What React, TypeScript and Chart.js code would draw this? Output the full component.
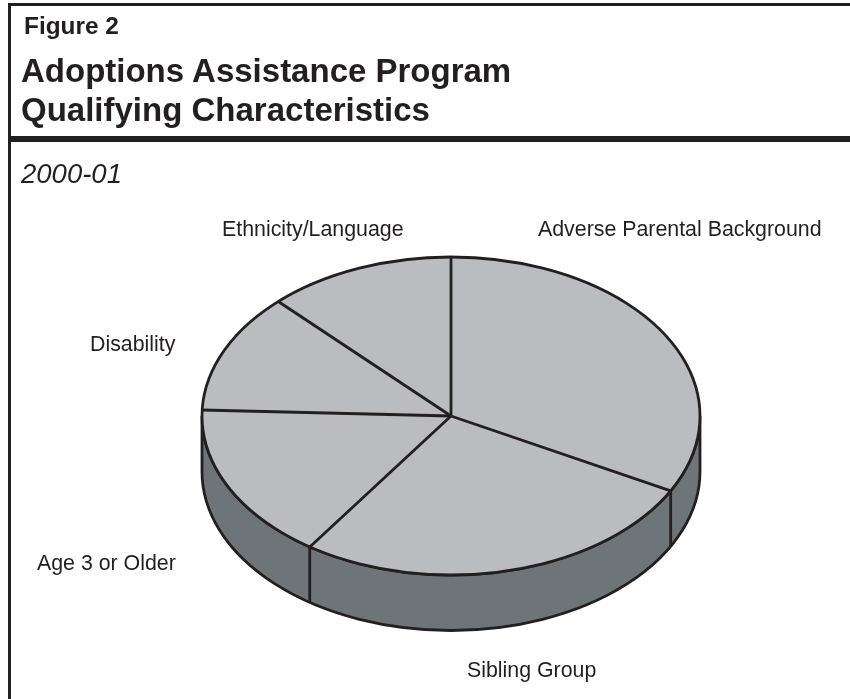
import React, { useEffect, useRef } from "react";
import { Chart, registerables } from "chart.js";

Chart.register(...registerables);

// Shares of qualifying characteristics, clockwise from twelve o'clock.
const categories = [
  "Adverse Parental Background",
  "Sibling Group",
  "Age 3 or Older",
  "Disability",
  "Ethnicity/Language",
];
const shares = [32.8, 26.8, 16, 12.2, 12.2];

const figureLabel = "Figure 2";
const titleLines = ["Adoptions Assistance Program", "Qualifying Characteristics"];
const periodLabel = "2000-01";

const INK = "#231f20";
const TOP_FILL = "#bbbcc0";
const WALL_FILL = "#6e7578";
const FONT = '"Liberation Sans", Arial, sans-serif';

// Foreshortening of the disc and height of its rim.
const TILT = 159 / 249;
const RIM = 55.5;
const LINE = 2.8;

// Label baseline-left anchors, in the same order as the categories.
const labelAnchors: [number, number][] = [
  [538, 236],
  [467, 677],
  [37, 570],
  [90, 351],
  [222, 236],
];

const pie3d = {
  id: "pie3d",
  beforeDatasetsDraw(chart: any) {
    const arc = chart.getDatasetMeta(0).data[0];
    const { x: cx, y: cy, outerRadius: rx } = arc;
    const ry = rx * TILT;
    const { ctx } = chart;

    // Rim: the front half of the disc pushed down by its height.
    ctx.save();
    ctx.beginPath();
    ctx.moveTo(cx + rx, cy);
    ctx.lineTo(cx + rx, cy + RIM);
    ctx.ellipse(cx, cy + RIM, rx, ry, 0, 0, Math.PI);
    ctx.lineTo(cx - rx, cy);
    ctx.ellipse(cx, cy, rx, ry, 0, Math.PI, 0, true);
    ctx.closePath();
    ctx.fillStyle = WALL_FILL;
    ctx.fill();
    ctx.lineWidth = LINE;
    ctx.strokeStyle = INK;
    ctx.stroke();
    ctx.restore();

    // Squash the slices the library draws next into an ellipse.
    ctx.save();
    ctx.translate(0, cy);
    ctx.scale(1, TILT);
    ctx.translate(0, -cy);
  },
  afterDatasetsDraw(chart: any) {
    const { ctx } = chart;
    ctx.restore();

    const arcs = chart.getDatasetMeta(0).data;
    const { x: cx, y: cy, outerRadius: rx } = arcs[0];
    const ry = rx * TILT;

    ctx.save();
    ctx.lineWidth = LINE;
    ctx.strokeStyle = INK;
    ctx.lineCap = "butt";
    ctx.lineJoin = "round";

    ctx.beginPath();
    ctx.ellipse(cx, cy, rx, ry, 0, 0, Math.PI * 2);
    ctx.stroke();

    for (const arc of arcs) {
      const px = cx + rx * Math.cos(arc.startAngle);
      const py = cy + ry * Math.sin(arc.startAngle);
      ctx.beginPath();
      ctx.moveTo(cx, cy);
      ctx.lineTo(px, py);
      // A boundary on the front half continues down the rim.
      if (Math.sin(arc.startAngle) > 0) ctx.lineTo(px, py + RIM);
      ctx.stroke();
    }

    ctx.fillStyle = INK;
    ctx.font = `21.35px ${FONT}`;
    ctx.textAlign = "left";
    ctx.textBaseline = "alphabetic";
    chart.data.labels.forEach((label: string, i: number) => {
      ctx.fillText(label, labelAnchors[i][0], labelAnchors[i][1]);
    });
    ctx.restore();
  },
};

export default function App() {
  const canvasRef = useRef<HTMLCanvasElement>(null);

  useEffect(() => {
    const chart = new Chart(canvasRef.current!, {
      type: "pie",
      data: {
        labels: categories,
        datasets: [
          {
            data: shares,
            backgroundColor: TOP_FILL,
            borderWidth: 0,
            hoverOffset: 0,
          },
        ],
      },
      options: {
        responsive: false,
        animation: false,
        layout: { padding: { left: 202, right: 150, top: 167, bottom: 34 } },
        plugins: {
          legend: { display: false },
          tooltip: { enabled: false },
        },
      },
      plugins: [pie3d],
    });
    return () => chart.destroy();
  }, []);

  const text: React.CSSProperties = {
    position: "absolute",
    margin: 0,
    color: INK,
    fontFamily: FONT,
    whiteSpace: "nowrap",
  };

  return (
    <div style={{ position: "absolute", left: 0, top: 0, width: 850, height: 699, overflow: "hidden", background: "#fff" }}>
      <canvas ref={canvasRef} width={850} height={699} style={{ position: "absolute", left: 0, top: 0, display: "block" }} />
      <div style={{ position: "absolute", left: 8, top: 3, width: 842, height: 2.5, background: INK }} />
      <div style={{ position: "absolute", left: 8, top: 3, width: 2.5, height: 696, background: INK }} />
      <div style={{ position: "absolute", left: 8, top: 135.5, width: 842, height: 6.5, background: INK }} />
      <div style={{ ...text, left: 24, top: 13, fontSize: 24.4, lineHeight: "26px", fontWeight: 700 }}>{figureLabel}</div>
      <h1 style={{ ...text, left: 21, top: 52, fontSize: 33, lineHeight: "38.5px", fontWeight: 700 }}>
        {titleLines[0]}
        <br />
        {titleLines[1]}
      </h1>
      <div style={{ ...text, left: 21, top: 159, fontSize: 27.5, lineHeight: "30px", fontStyle: "italic" }}>{periodLabel}</div>
    </div>
  );
}
